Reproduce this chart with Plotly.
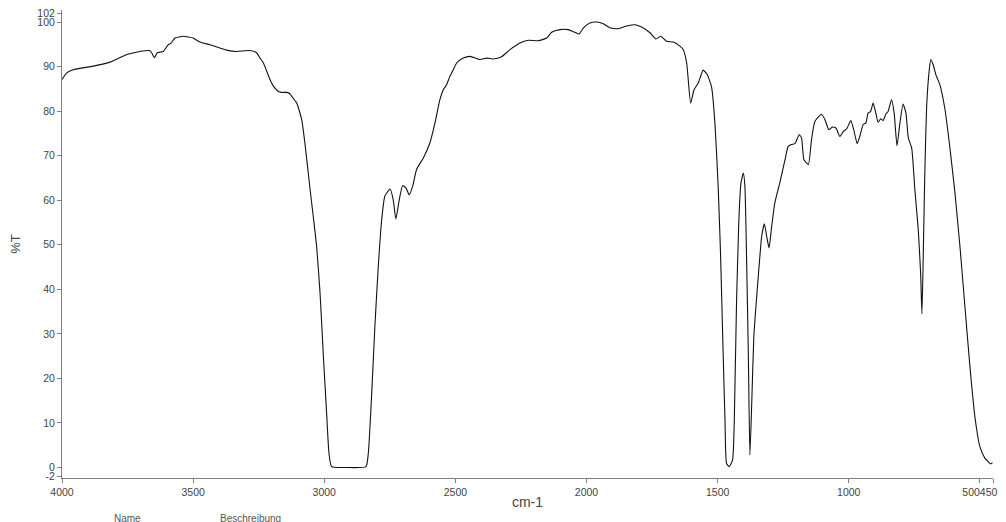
import plotly.graph_objects as go

wavenumber = [4000, 3982, 3957, 3881, 3817, 3753, 3703, 3667, 3658, 3648, 3637, 3614, 3595, 3585,
              3569, 3538, 3500, 3474, 3436, 3372, 3334, 3283, 3258, 3245, 3232, 3207, 3194, 3175,
              3162, 3143, 3131, 3124, 3105, 3086, 3074, 3054, 3042, 3029, 3016, 3004, 2991, 2982,
              2972, 2915, 2841, 2832, 2819, 2807, 2794, 2781, 2769, 2749, 2737, 2727, 2714, 2701,
              2688, 2676, 2663, 2648, 2622, 2597, 2578, 2559, 2546, 2533, 2521, 2508, 2495, 2470,
              2444, 2406, 2381, 2356, 2324, 2292, 2254, 2222, 2184, 2152, 2133, 2101, 2070, 2044,
              2028, 2012, 1987, 1961, 1936, 1911, 1879, 1847, 1815, 1790, 1758, 1735, 1717, 1695,
              1669, 1644, 1631, 1618, 1603, 1590, 1574, 1555, 1540, 1523, 1510, 1498, 1489, 1479,
              1472, 1466, 1456, 1443, 1434, 1428, 1419, 1411, 1402, 1396, 1390, 1383, 1377, 1370,
              1362, 1354, 1345, 1332, 1322, 1313, 1304, 1294, 1282, 1263, 1243, 1231, 1218, 1205,
              1189, 1180, 1171, 1154, 1142, 1129, 1104, 1091, 1076, 1063, 1049, 1034, 1021, 1008,
              992, 981, 968, 958, 945, 935, 926, 917, 907, 897, 888, 878, 869, 858, 850, 837, 827,
              816, 805, 793, 782, 773, 760, 748, 735, 726, 721, 716, 710, 703, 693, 687, 678, 668,
              653, 634, 615, 595, 576, 557, 538, 519, 500, 481, 468, 459, 452]

transmittance = [87.1, 88.6, 89.3, 90.1, 91.0, 92.7, 93.4, 93.6, 93.1, 92.0, 93.1, 93.4, 94.9, 95.2,
                 96.4, 96.8, 96.4, 95.5, 94.9, 93.7, 93.4, 93.6, 93.1, 91.9, 90.8, 87.1, 85.6, 84.4,
                 84.2, 84.2, 83.9, 83.3, 81.8, 78.1, 72.9, 62.4, 56.4, 49.6, 39.1, 25.7, 12.2, 3.2,
                 0.2, 0.0, 0.2, 3.2, 16.7, 31.6, 45.1, 55.6, 60.9, 62.5, 60.1, 55.8, 60.1, 63.3,
                 62.7, 61.2, 63.1, 66.9, 69.5, 72.9, 77.3, 82.6, 84.8, 86.0, 87.8, 89.3, 90.8, 91.9,
                 92.3, 91.6, 91.9, 91.7, 92.2, 93.8, 95.3, 95.9, 95.8, 96.4, 97.7, 98.3, 98.3, 97.7,
                 97.3, 98.7, 99.8, 100.0, 99.6, 98.7, 98.5, 99.1, 99.4, 98.9, 97.6, 96.2, 96.8, 95.7,
                 95.5, 94.6, 93.8, 90.8, 81.8, 84.8, 86.3, 89.2, 88.2, 85.4, 77.0, 63.1, 48.1, 25.7,
                 10.7, 0.9, 0.2, 1.7, 18.2, 36.9, 55.6, 63.9, 66.1, 63.1, 48.1, 25.7, 2.8, 14.4,
                 29.4, 36.1, 42.9, 51.9, 54.7, 51.9, 49.3, 54.1, 59.4, 63.9, 69.1, 72.1, 72.5, 72.7,
                 74.7, 74.0, 69.1, 68.0, 73.6, 77.7, 79.3, 78.1, 75.8, 76.4, 76.2, 74.3, 75.4, 76.0,
                 77.9, 75.8, 72.7, 74.3, 77.0, 77.3, 79.6, 79.9, 81.8, 79.6, 77.5, 78.3, 77.9, 79.4,
                 79.9, 82.6, 79.6, 72.2, 77.3, 81.6, 79.6, 74.0, 71.7, 62.4, 53.4, 43.6, 34.5, 47.4,
                 66.1, 81.1, 89.3, 91.6, 90.4, 88.2, 86.0, 80.7, 72.1, 61.6, 49.6, 36.1, 22.7, 11.4,
                 4.7, 2.1, 1.3, 0.8, 1.1]

x_ticks = [4000, 3500, 3000, 2500, 2000, 1500, 1000, 500, 450]
x_tick_labels = ["4000", "3500", "3000", "2500", "2000", "1500", "1000",
                 "500" + "\u00a0" * 6, "450" + "\u00a0" * 3]
y_ticks = [-2, 0, 10, 20, 30, 40, 50, 60, 70, 80, 90, 100, 102]

fig = go.Figure()
fig.add_trace(go.Scatter(
    x=wavenumber, y=transmittance, mode="lines",
    line=dict(color="#111111", width=1.1, shape="spline", smoothing=0.5),
    showlegend=False, hoverinfo="x+y",
))

axis_font = dict(family="Liberation Sans, Arial, sans-serif", size=10.5, color="#444444")

fig.update_layout(
    width=998, height=514,
    margin=dict(l=54, r=13, t=2, b=44),
    paper_bgcolor="white", plot_bgcolor="white",
    font=dict(family="Liberation Sans, Arial, sans-serif", color="#444444"),
    xaxis=dict(
        range=[4000, 450], tickmode="array", tickvals=x_ticks,
        ticktext=x_tick_labels, tickangle=0, automargin=False, ticklabeloverflow="allow",
        showgrid=False, zeroline=False, showline=True, linecolor="#808080", linewidth=1,
        ticks="outside", ticklen=4, tickcolor="#808080", tickfont=axis_font,
        title=dict(text="cm-1", font=dict(size=14, color="#444444"), standoff=0),
    ),
    yaxis=dict(
        range=[-2.36, 102.7], tickmode="array", tickvals=y_ticks,
        ticktext=[str(v) for v in y_ticks], automargin=False, ticklabeloverflow="allow",
        showgrid=False, zeroline=False, showline=True, linecolor="#808080", linewidth=1,
        ticks="outside", ticklen=4, tickcolor="#808080", tickfont=axis_font,
        title=dict(text="%T", font=dict(size=13, color="#444444"), standoff=16),
    ),
    annotations=[
        dict(text="Name", xref="paper", yref="paper", x=(127 - 62) / 931, y=-0.070,
             xanchor="center", yanchor="top", showarrow=False,
             font=dict(size=10, color="#555555")),
        dict(text="Beschreibung", xref="paper", yref="paper", x=(250 - 62) / 931, y=-0.070,
             xanchor="center", yanchor="top", showarrow=False,
             font=dict(size=10, color="#555555")),
    ],
)

fig.write_html("out.html")
